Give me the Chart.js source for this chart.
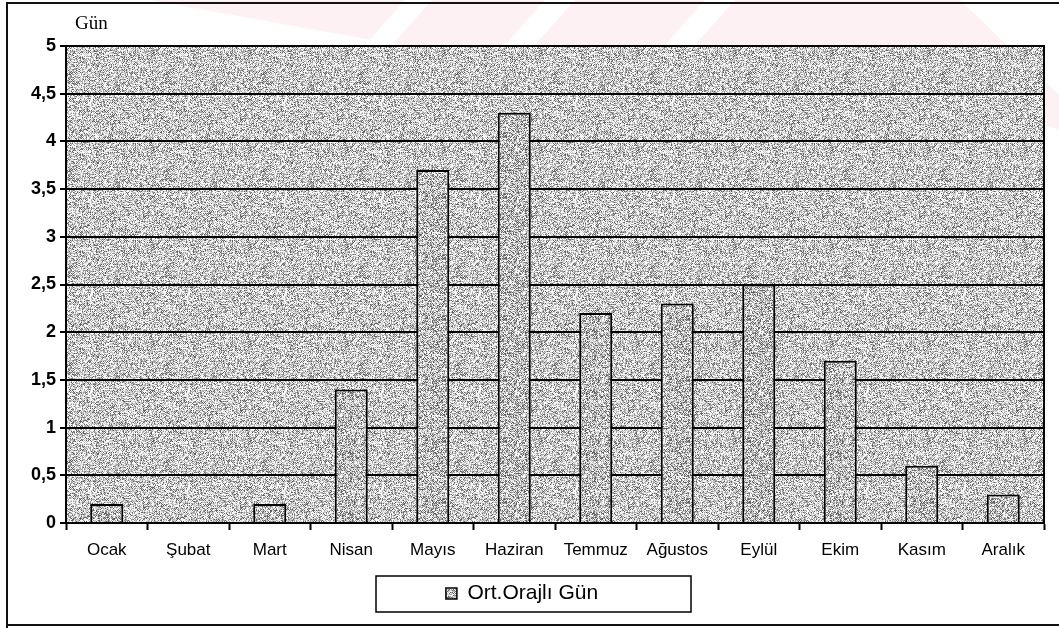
<!DOCTYPE html>
<html>
<head>
<meta charset="utf-8">
<script src="https://cdn.jsdelivr.net/npm/chart.js@4/dist/chart.umd.min.js"></script>
<style>
  html, body { margin: 0; padding: 0; background: #fff; }
  #wrap { width: 1059px; height: 628px; position: relative; }
</style>
</head>
<body>
<div id="wrap"><canvas id="c" width="1059" height="628"></canvas></div>
<script>
// Monthly average thunderstorm days
const months = ['Ocak', 'Şubat', 'Mart', 'Nisan', 'Mayıs', 'Haziran', 'Temmuz', 'Ağustos', 'Eylül', 'Ekim', 'Kasım', 'Aralık'];
const stormDays = [0.2, 0, 0.2, 1.4, 3.7, 4.3, 2.2, 2.3, 2.5, 1.7, 0.6, 0.3];
const yTickLabels = ['0', '0,5', '1', '1,5', '2', '2,5', '3', '3,5', '4', '4,5', '5'];
const seriesLabel = 'Ort.Orajlı Gün';
const unitLabel = 'Gün';

// deterministic hash used for the printed halftone texture
function hash(x, y, s) {
  let n = Math.imul(x, 374761393) + Math.imul(y, 668265263) + Math.imul(s, 1442695041);
  n = Math.imul(n ^ (n >>> 13), 1274126177);
  return ((n ^ (n >>> 16)) >>> 0) / 4294967296;
}

// halftone tile: speckle of greys around a mean level
function halftone(size, level, seed) {
  const cv = document.createElement('canvas');
  cv.width = size; cv.height = size;
  const cx = cv.getContext('2d');
  const img = cx.createImageData(size, size);
  for (let y = 0; y < size; y++) {
    for (let x = 0; x < size; x++) {
      const r = hash(x, y, seed);
      const checker = ((x + y) & 1) ? 0.1 : -0.1;
      const t = level + (r - 0.5) * 0.8 + checker;
      let v;
      if (t > 0.7) v = 248; else if (t > 0.5) v = 205; else if (t > 0.32) v = 160; else v = 100;
      const i = (y * size + x) * 4;
      img.data[i] = v; img.data[i + 1] = v; img.data[i + 2] = v; img.data[i + 3] = 255;
    }
  }
  cx.putImageData(img, 0, 0);
  return cx.createPattern(cv, 'repeat');
}

const ctx = document.getElementById('c').getContext('2d');
const plotFill = halftone(97, 0.6, 7);
const barFill = halftone(61, 0.54, 3);

const framePlugin = {
  id: 'frame',
  beforeDraw(chart) {
    const c = chart.ctx, a = chart.chartArea;
    c.save();
    c.fillStyle = '#fff';
    c.fillRect(0, 0, chart.width, chart.height);
    // faint watermark on the page
    c.fillStyle = 'rgba(240, 170, 180, 0.16)';
    c.beginPath();
    c.moveTo(150, 0); c.lineTo(960, 0); c.lineTo(1059, 95); c.lineTo(1059, 130);
    c.lineTo(820, 45); c.lineTo(400, 45);
    c.closePath();
    c.fill();
    c.fillStyle = '#fff';
    [[405, 432], [545, 575], [705, 735]].forEach(([x0, x1]) => {
      c.beginPath();
      c.moveTo(x0, 0); c.lineTo(x1, 0); c.lineTo(x1 - 40, 45); c.lineTo(x0 - 40, 45);
      c.closePath(); c.fill();
    });
    c.fillStyle = plotFill;
    c.fillRect(a.left, a.top, a.right - a.left, a.bottom - a.top);
    c.restore();
  },
  afterDraw(chart) {
    const c = chart.ctx, a = chart.chartArea;
    c.save();
    // plot outline
    c.strokeStyle = '#000';
    c.lineWidth = 2;
    c.strokeRect(a.left, a.top, a.right - a.left, a.bottom - a.top);
    // outer chart frame
    c.strokeStyle = '#111';
    c.beginPath();
    c.moveTo(7, 628); c.lineTo(7, 3); c.lineTo(1059, 3);
    c.moveTo(7, 625); c.lineTo(1059, 625);
    c.stroke();
    // unit label
    c.fillStyle = '#000';
    c.font = '19px "Liberation Serif", "DejaVu Serif", serif';
    c.textBaseline = 'alphabetic';
    c.fillText(unitLabel, 75, 29);
    // legend frame
    const lg = chart.legend;
    if (lg && lg.legendHitBoxes && lg.legendHitBoxes.length) {
      const hb = lg.legendHitBoxes[0];
      const midY = hb.top + hb.height / 2;
      c.lineWidth = 1.5;
      c.strokeStyle = '#000';
      c.strokeRect(376, Math.round(midY - 18), 315, 36);
    }
    c.restore();
  }
};

new Chart(ctx, {
  type: 'bar',
  data: {
    labels: months,
    datasets: [{
      label: seriesLabel,
      data: stormDays,
      backgroundColor: barFill,
      borderColor: '#000',
      borderWidth: 2,
      borderSkipped: 'bottom',
      barPercentage: 0.405,
      categoryPercentage: 1
    }]
  },
  options: {
    responsive: false,
    animation: false,
    devicePixelRatio: 1,
    layout: { padding: { left: 0, right: 15, top: 46, bottom: 14 } },
    plugins: {
      tooltip: { enabled: false },
      legend: {
        display: true,
        position: 'bottom',
        labels: {
          color: '#000',
          font: { family: '"Liberation Sans", Arial, sans-serif', size: 21 },
          boxWidth: 11,
          boxHeight: 11,
          padding: 8,
          generateLabels(chart) {
            const ds = chart.data.datasets[0];
            return [{
              text: ds.label,
              fillStyle: barFill,
              strokeStyle: '#000',
              lineWidth: 1.5,
              datasetIndex: 0
            }];
          }
        }
      }
    },
    scales: {
      x: {
        offset: true,
        afterFit(scale) { scale.height = 52; },
        grid: {
          drawOnChartArea: false,
          drawTicks: true,
          tickLength: 7,
          tickColor: '#000',
          tickWidth: 2,
          offset: true
        },
        border: { display: true, color: '#000', width: 2 },
        ticks: {
          color: '#000',
          padding: 10,
          maxRotation: 0,
          font: { family: '"Liberation Sans", Arial, sans-serif', size: 17 }
        }
      },
      y: {
        min: 0,
        max: 5,
        afterFit(scale) { scale.width = 66; },
        grid: {
          color: '#000',
          lineWidth: 2,
          drawTicks: true,
          tickLength: 6,
          tickColor: '#000',
          tickWidth: 2
        },
        border: { display: true, color: '#000', width: 2 },
        ticks: {
          stepSize: 0.5,
          color: '#000',
          padding: 4,
          font: { family: '"Liberation Sans", Arial, sans-serif', size: 18, weight: 'bold' },
          callback(value, index) { return yTickLabels[index]; }
        }
      }
    }
  },
  plugins: [framePlugin]
});
</script>
</body>
</html>
